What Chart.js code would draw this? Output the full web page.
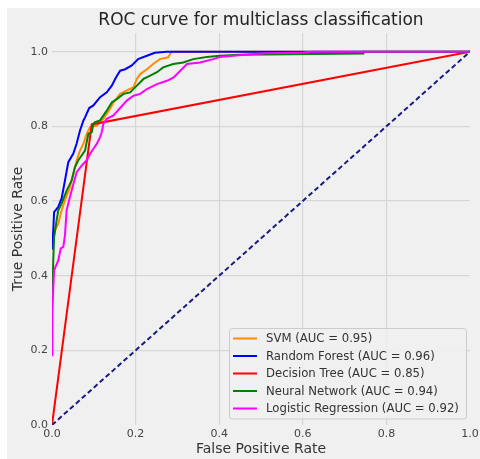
<!DOCTYPE html>
<html>
<head>
<meta charset="utf-8">
<script src="https://cdn.jsdelivr.net/npm/chart.js@4.4.1/dist/chart.umd.min.js"></script>
<style>
  html, body { margin: 0; padding: 0; background: #ffffff; }
  #wrap { width: 480px; height: 459px; }
</style>
</head>
<body>
<div id="wrap"><canvas id="chartRoc" width="480" height="459"></canvas></div>
<script>
// Labels
const chartTitle = 'ROC curve for multiclass classification';
const modelNames = ['SVM', 'Random Forest', 'Decision Tree', 'Neural Network', 'Logistic Regression'];
const aucValues = [0.95, 0.96, 0.85, 0.94, 0.92];
const modelColors = ['#ff8c00', '#0000ff', '#ff0000', '#008000', '#ff00ff'];
const tickValues = [0, 0.2, 0.4, 0.6, 0.8, 1.0];

// ROC points (false positive rate / true positive rate)
const svmFpr = [0, 0.003, 0.007, 0.015, 0.023, 0.031, 0.043, 0.051, 0.059, 0.067, 0.075, 0.083, 0.091, 0.107, 0.123, 0.139, 0.147, 0.163, 0.179, 0.195, 0.203, 0.211, 0.227, 0.242, 0.258, 0.278, 0.286, 1.0];
const svmTpr = [0.47, 0.495, 0.521, 0.539, 0.575, 0.602, 0.637, 0.673, 0.709, 0.735, 0.753, 0.78, 0.798, 0.802, 0.82, 0.847, 0.864, 0.887, 0.896, 0.905, 0.927, 0.94, 0.953, 0.967, 0.98, 0.985, 1.0, 1.0];

const rfFpr = [0, 0.003, 0.005, 0.015, 0.023, 0.031, 0.039, 0.051, 0.059, 0.067, 0.075, 0.079, 0.089, 0.099, 0.115, 0.131, 0.143, 0.153, 0.163, 0.175, 0.191, 0.206, 0.227, 0.246, 0.274, 1.0];
const rfTpr = [0.47, 0.52, 0.57, 0.584, 0.607, 0.655, 0.704, 0.727, 0.754, 0.789, 0.815, 0.824, 0.849, 0.856, 0.878, 0.891, 0.909, 0.931, 0.949, 0.953, 0.963, 0.98, 0.989, 0.997, 1.0, 1.0];

const dtFpr = [0, 0.095, 1.0];
const dtTpr = [0, 0.805, 1.0];

const nnFpr = [0, 0.003, 0.005, 0.011, 0.015, 0.023, 0.035, 0.047, 0.055, 0.063, 0.079, 0.087, 0.095, 0.099, 0.103, 0.115, 0.131, 0.143, 0.155, 0.171, 0.187, 0.203, 0.219, 0.235, 0.251, 0.266, 0.29, 0.314, 0.338, 0.37, 0.402, 0.45, 0.745, 0.745, 1.0];
const nnTpr = [0.29, 0.44, 0.503, 0.548, 0.575, 0.593, 0.628, 0.655, 0.691, 0.709, 0.735, 0.78, 0.784, 0.807, 0.811, 0.816, 0.842, 0.864, 0.873, 0.887, 0.891, 0.909, 0.927, 0.936, 0.945, 0.958, 0.967, 0.971, 0.98, 0.986, 0.989, 0.992, 0.995, 1.0, 1.0];

const lrFpr = [0, 0.001, 0.005, 0.015, 0.021, 0.027, 0.031, 0.035, 0.039, 0.047, 0.059, 0.071, 0.083, 0.091, 0.099, 0.107, 0.115, 0.119, 0.123, 0.131, 0.147, 0.179, 0.195, 0.211, 0.227, 0.251, 0.275, 0.291, 0.307, 0.323, 0.354, 0.386, 0.402, 0.434, 0.474, 0.514, 0.6, 0.62, 1.0];
const lrTpr = [0.187, 0.316, 0.414, 0.441, 0.473, 0.477, 0.508, 0.575, 0.593, 0.628, 0.677, 0.695, 0.709, 0.726, 0.74, 0.753, 0.771, 0.784, 0.807, 0.82, 0.829, 0.869, 0.882, 0.887, 0.9, 0.913, 0.922, 0.931, 0.949, 0.967, 0.971, 0.98, 0.986, 0.989, 0.993, 0.996, 0.998, 1.0, 1.0];

const chanceFpr = [0, 1];
const chanceTpr = [0, 1];

const fprSeries = [svmFpr, rfFpr, dtFpr, nnFpr, lrFpr];
const tprSeries = [svmTpr, rfTpr, dtTpr, nnTpr, lrTpr];

const toPoints = (xs, ys) => xs.map((x, i) => ({ x: x, y: ys[i] }));

const FONT = 'DejaVu Sans';

// Grey figure background + title centred on the plot area
const figureBackground = {
    id: 'figureBackground',
    beforeDraw(chart) {
        const { ctx } = chart;
        ctx.save();
        ctx.fillStyle = '#ffffff';
        ctx.fillRect(0, 0, chart.width, chart.height);
        ctx.fillStyle = '#f0f0f0';
        ctx.fillRect(7, 8, chart.width - 7, chart.height - 8);
        ctx.restore();
    },
    afterDraw(chart) {
        const { ctx, chartArea } = chart;
        ctx.save();
        ctx.font = '17px "' + FONT + '"';
        ctx.fillStyle = '#222222';
        ctx.textAlign = 'center';
        ctx.textBaseline = 'middle';
        ctx.fillText(chartTitle, (chartArea.left + chartArea.right) / 2, 21);
        ctx.restore();
    }
};

// Legend box in the lower right corner like matplotlib
const boxLegend = {
    id: 'boxLegend',
    afterDraw(chart) {
        const { ctx } = chart;
        const x0 = 229.5, y0 = 328.5, w = 237, h = 90.5;
        ctx.save();
        ctx.beginPath();
        ctx.roundRect(x0, y0, w, h, 3);
        ctx.fillStyle = 'rgba(240,240,240,0.85)';
        ctx.fill();
        ctx.strokeStyle = '#cccccc';
        ctx.lineWidth = 1;
        ctx.stroke();
        ctx.font = '11.7px "' + FONT + '"';
        ctx.textBaseline = 'middle';
        ctx.textAlign = 'left';
        modelNames.forEach((name, i) => {
            const y = 338.5 + i * 17.5;
            ctx.beginPath();
            ctx.moveTo(233, y);
            ctx.lineTo(257, y);
            ctx.strokeStyle = modelColors[i];
            ctx.lineWidth = 2;
            ctx.stroke();
            ctx.fillStyle = '#333333';
            ctx.fillText(name + ' (AUC = ' + aucValues[i].toFixed(2) + ')', 266, y + 0.5);
        });
        ctx.restore();
    }
};

const edgeHidden = (ctx, lo, hi) => {
    const v = ctx.tick ? ctx.tick.value : null;
    return (v === lo || v === hi) ? 'rgba(0,0,0,0)' : '#d6d6d6';
};

const datasets = modelNames.map((name, i) => ({
    label: name + ' (AUC = ' + aucValues[i].toFixed(2) + ')',
    data: toPoints(fprSeries[i], tprSeries[i]),
    borderColor: modelColors[i],
    backgroundColor: modelColors[i],
    borderWidth: 2,
    pointRadius: 0,
    tension: 0,
    fill: false,
    order: 5 - i,
}));

datasets.push({
    label: 'chance',
    data: toPoints(chanceFpr, chanceTpr),
    borderColor: '#1a1a80',
    borderWidth: 2,
    borderDash: [5, 3],
    pointRadius: 0,
    fill: false,
    order: -1,
});

new Chart(document.getElementById('chartRoc'), {
    type: 'line',
    data: { datasets: datasets },
    options: {
        responsive: false,
        devicePixelRatio: 1,
        animation: false,
        layout: { padding: { left: 7, top: 33, right: 10, bottom: 0 } },
        plugins: {
            legend: { display: false },
            title: { display: false },
            tooltip: { enabled: false },
        },
        scales: {
            x: {
                type: 'linear',
                min: 0,
                max: 1,
                afterBuildTicks: s => { s.ticks = tickValues.map(v => ({ value: v })); },
                afterFit: s => { s.height = 34; s.paddingLeft = 0; s.paddingRight = 0; },
                border: { display: false },
                grid: { color: c => edgeHidden(c, 0, 1), lineWidth: 1.2, drawTicks: false },
                ticks: {
                    callback: v => v.toFixed(1),
                    color: '#444444',
                    font: { family: FONT, size: 11 },
                    padding: 3,
                    maxRotation: 0,
                },
                title: {
                    display: true,
                    text: 'False Positive Rate',
                    color: '#333333',
                    font: { family: FONT, size: 14 },
                    padding: { top: 0, bottom: 1.6 },
                },
            },
            y: {
                type: 'linear',
                min: 0,
                max: 1.05,
                afterBuildTicks: s => { s.ticks = tickValues.map(v => ({ value: v })); },
                afterFit: s => { s.width = 45; s.paddingTop = 0; s.paddingBottom = 0; },
                border: { display: false },
                grid: { color: c => edgeHidden(c, 0, 1.05), lineWidth: 1.2, drawTicks: false },
                ticks: {
                    callback: v => v.toFixed(1),
                    color: '#444444',
                    font: { family: FONT, size: 11 },
                    padding: 4,
                },
                title: {
                    display: true,
                    text: 'True Positive Rate',
                    color: '#333333',
                    font: { family: FONT, size: 14 },
                    padding: { top: 2.6, bottom: 0 },
                },
            },
        },
    },
    plugins: [figureBackground, boxLegend],
});
</script>
</body>
</html>
